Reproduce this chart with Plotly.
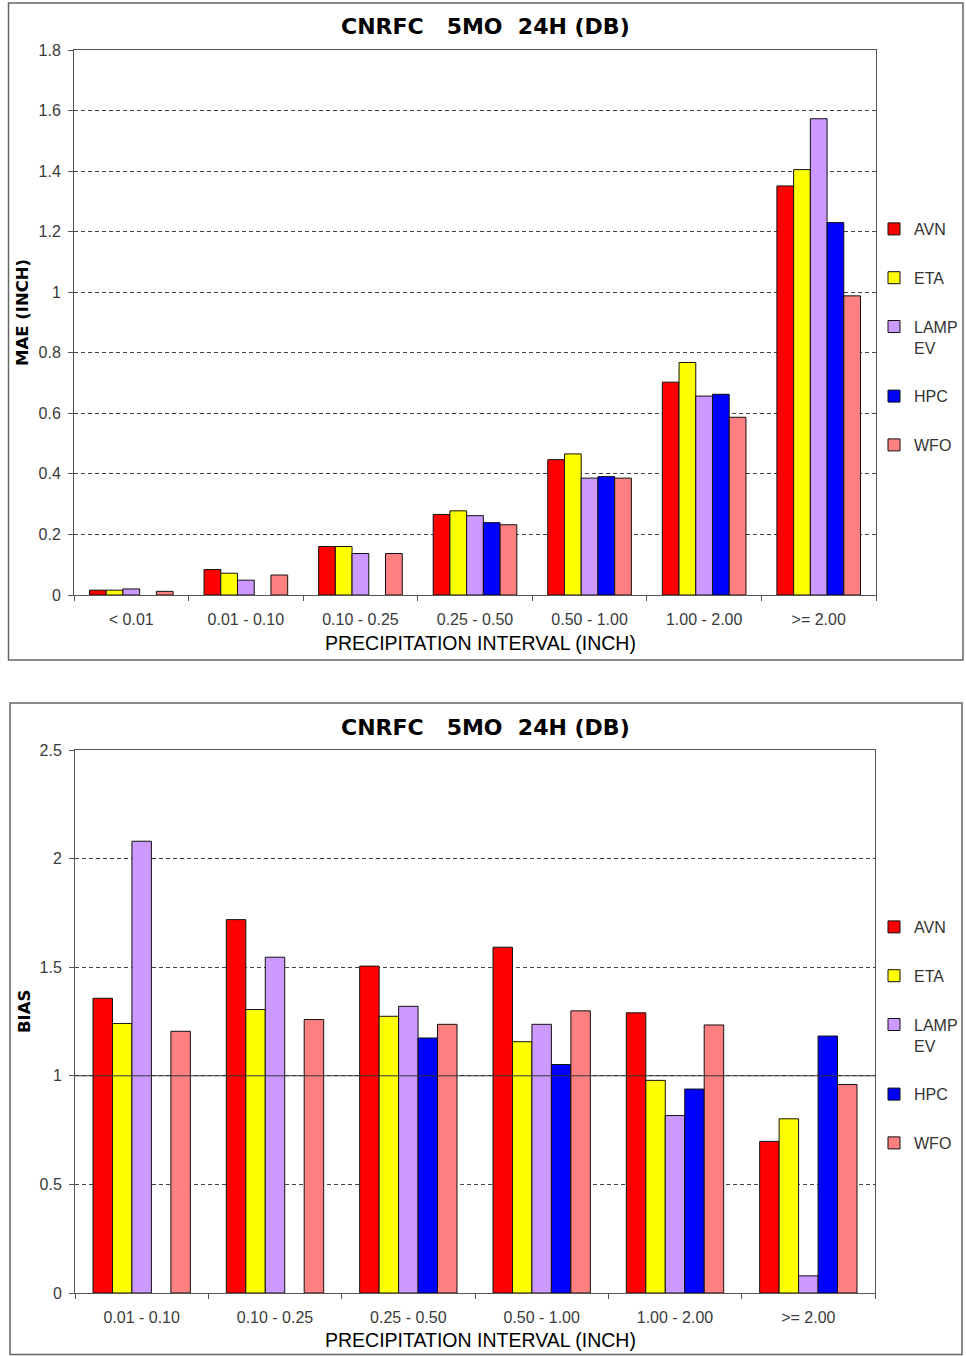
import plotly.graph_objects as go

# ---------------- data ----------------
series = ["AVN", "ETA", "LAMP<br>EV", "HPC", "WFO"]
colors = ["#FF0000", "#FFFF00", "#CC99FF", "#0000FF", "#FF8080"]

mae_cats = ["< 0.01", "0.01 - 0.10", "0.10 - 0.25", "0.25 - 0.50",
            "0.50 - 1.00", "1.00 - 2.00", ">= 2.00"]
mae_avn = [0.016, 0.084, 0.160, 0.266, 0.447, 0.703, 1.351]
mae_eta = [0.016, 0.072, 0.160, 0.278, 0.466, 0.768, 1.405]
mae_lamp = [0.020, 0.049, 0.137, 0.262, 0.386, 0.657, 1.573]
mae_hpc = [None, None, None, 0.239, 0.391, 0.663, 1.230]
mae_wfo = [0.012, 0.066, 0.137, 0.232, 0.386, 0.587, 0.988]

bias_cats = ["0.01 - 0.10", "0.10 - 0.25", "0.25 - 0.50",
             "0.50 - 1.00", "1.00 - 2.00", ">= 2.00"]
bias_avn = [1.357, 1.719, 1.505, 1.592, 1.290, 0.698]
bias_eta = [1.241, 1.305, 1.274, 1.157, 0.979, 0.802]
bias_lamp = [2.080, 1.546, 1.320, 1.237, 0.817, 0.079]
bias_hpc = [None, None, 1.174, 1.052, 0.939, 1.183]
bias_wfo = [1.205, 1.259, 1.237, 1.299, 1.234, 0.960]

title_text = "CNRFC   5MO  24H (DB)"
x_title = "PRECIPITATION INTERVAL (INCH)"
y_title_top = "MAE (INCH)"
y_title_bottom = "BIAS"

# ---------------- figure ----------------
W, H = 966, 1356
fig = go.Figure()

mae_vals = [mae_avn, mae_eta, mae_lamp, mae_hpc, mae_wfo]
bias_vals = [bias_avn, bias_eta, bias_lamp, bias_hpc, bias_wfo]

for i, (name, col) in enumerate(zip(series, colors)):
    fig.add_trace(go.Bar(
        x=mae_cats, y=mae_vals[i], name=name, marker_color=col,
        marker_line=dict(color="#111111", width=1),
        xaxis="x", yaxis="y", legend="legend", legendgroup="a%d" % i))
for i, (name, col) in enumerate(zip(series, colors)):
    fig.add_trace(go.Bar(
        x=bias_cats, y=bias_vals[i], name=name, marker_color=col,
        marker_line=dict(color="#111111", width=1),
        xaxis="x2", yaxis="y2", legend="legend2", legendgroup="b%d" % i))


def px_x(p):
    return p / W


def px_y(p):
    return 1 - p / H


font_bold = "DejaVu Sans, Liberation Sans, Arial, sans-serif"
font_main = "Liberation Sans, Arial, sans-serif"
tick_font = dict(family=font_main, size=16, color="#3a3a3a")
axis_common = dict(
    showline=True, linecolor="#555555", linewidth=1, mirror=True,
    ticks="outside", ticklen=5, tickcolor="#555555", tickfont=tick_font,
    zeroline=False, automargin=False,
)
grid_style = dict(showgrid=True, gridcolor="#444444", griddash="4px,3px",
                  gridwidth=1, tickformat="~g")

legend_common = dict(
    xanchor="left", yanchor="top", traceorder="grouped", tracegroupgap=25,
    valign="top", font=dict(size=16, color="#333333", family=font_main),
    itemwidth=30, bgcolor="rgba(0,0,0,0)",
)

fig.update_layout(
    width=W, height=H,
    margin=dict(l=0, r=0, t=0, b=0, autoexpand=False),
    paper_bgcolor="white", plot_bgcolor="white",
    barmode="group", bargroupgap=0, bargap=0.27,
    font=dict(family=font_main, color="#000000"),
    xaxis=dict(domain=[px_x(74), px_x(876)], anchor="y", type="category",
               tickson="boundaries", showgrid=False, ticklabelstandoff=10,
               **axis_common),
    yaxis=dict(domain=[px_y(595), px_y(50)], anchor="x", range=[0, 1.8],
               dtick=0.2, ticklabelstandoff=4, **grid_style, **axis_common),
    xaxis2=dict(domain=[px_x(75), px_x(875)], anchor="y2", type="category",
                tickson="boundaries", showgrid=False, ticklabelstandoff=10,
                **axis_common),
    yaxis2=dict(domain=[px_y(1293), px_y(750)], anchor="x2", range=[0, 2.5],
                dtick=0.5, ticklabelstandoff=4, **grid_style, **axis_common),
    legend=dict(x=px_x(874), y=px_y(212), **legend_common),
    legend2=dict(x=px_x(874), y=px_y(910), **legend_common),
    showlegend=True,
)

ann_font_title = dict(size=22, color="#000000", family=font_bold)
ann_font_axis = dict(size=19.5, color="#000000", family=font_main)
ann_font_ytitle = dict(size=16.5, color="#000000", family=font_bold)

# chart titles
for yp in (27, 727):
    fig.add_annotation(text="<b>" + title_text + "</b>", x=px_x(486),
                       y=px_y(yp), xref="paper", yref="paper",
                       xanchor="center", yanchor="middle",
                       showarrow=False, font=ann_font_title)

# x-axis titles
for yp in (643, 1340):
    fig.add_annotation(text=x_title, x=px_x(480), y=px_y(yp),
                       xref="paper", yref="paper", xanchor="center",
                       yanchor="middle", showarrow=False, font=ann_font_axis)

# y-axis titles
fig.add_annotation(text="<b>" + y_title_top + "</b>", x=px_x(22), y=px_y(313),
                   xref="paper", yref="paper", xanchor="center",
                   yanchor="middle", showarrow=False, textangle=-90,
                   font=ann_font_ytitle)
fig.add_annotation(text="<b>" + y_title_bottom + "</b>", x=px_x(24),
                   y=px_y(1012), xref="paper", yref="paper", xanchor="center",
                   yanchor="middle", showarrow=False, textangle=-90,
                   font=ann_font_ytitle)

# reference line at bias = 1
fig.add_shape(type="line", xref="x2 domain", yref="y2", x0=0, x1=1, y0=1, y1=1,
              line=dict(color="#333333", width=1))

# panel borders
fig.add_shape(type="rect", xref="paper", yref="paper",
              x0=px_x(8.5), x1=px_x(963), y0=px_y(660), y1=px_y(3),
              line=dict(color="#666666", width=1.5))
fig.add_shape(type="rect", xref="paper", yref="paper",
              x0=px_x(10), x1=px_x(962), y0=px_y(1354.5), y1=px_y(703),
              line=dict(color="#666666", width=1.5))

fig.write_html(
    "out.html",
    config={"displayModeBar": False},
    post_script="document.body.style.margin='0';"
                "document.body.style.overflow='hidden';",
)
